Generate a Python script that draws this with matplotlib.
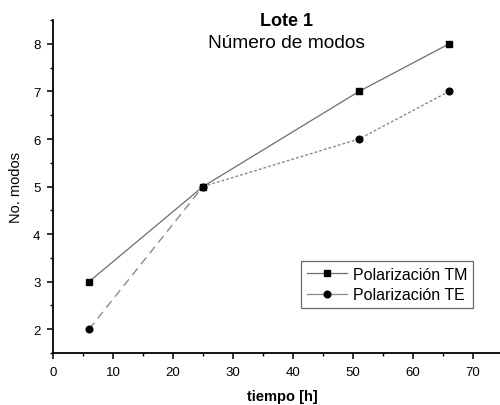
import matplotlib.pyplot as plt
from matplotlib.ticker import MultipleLocator
from matplotlib.lines import Line2D

plt.rcParams['font.family'] = ['Liberation Sans', 'DejaVu Sans']

# data
tiempo = [6, 25, 51, 66]
modos_tm = [3, 5, 7, 8]
modos_te = [2, 5, 6, 7]

fig = plt.figure(figsize=(5.0, 4.06), dpi=100)
ax = fig.add_axes([0.106, 0.128, 0.894, 0.82])

ax.plot(tiempo, modos_tm, color='#6e6e6e', lw=0.9, ls='-',
        marker='s', ms=4.5, mfc='black', mec='black')
# TE: dashed first segment, dotted afterwards
ax.plot(tiempo[:2], modos_te[:2], color='#8a8a8a', lw=1.0, ls=(0, (6, 4)))
ax.plot(tiempo[1:], modos_te[1:], color='#8a8a8a', lw=1.0, ls=(0, (2, 1.5)))
ax.plot(tiempo, modos_te, ls='none', marker='o', ms=4.8, mfc='black', mec='black')

ax.set_xlim(0, 74.5)
ax.set_ylim(1.5, 8.5)
ax.xaxis.set_major_locator(MultipleLocator(10))
ax.xaxis.set_minor_locator(MultipleLocator(5))
ax.yaxis.set_major_locator(MultipleLocator(1))
ax.yaxis.set_minor_locator(MultipleLocator(0.5))
ax.tick_params(which='major', direction='out', length=4, width=1.1, labelsize=9.5, pad=5)
ax.tick_params(which='minor', direction='out', length=2.5, width=1.0)
for s in ('top', 'right'):
    ax.spines[s].set_visible(False)
for s in ('left', 'bottom'):
    ax.spines[s].set_linewidth(1.3)

ax.set_xlabel('tiempo [h]', fontsize=10.5, fontweight='bold')
ax.xaxis.set_label_coords(0.513, -0.107)
ax.set_ylabel('No. modos', fontsize=10.5)
ax.yaxis.set_label_coords(-0.068, 0.5)

fig.text(0.574, 0.947, 'Lote 1', ha='center', va='center', fontsize=13, fontweight='bold')
fig.text(0.574, 0.893, 'Número de modos', ha='center', va='center', fontsize=13.8)

handles = [
    Line2D([], [], color='#6e6e6e', lw=0.9, marker='s', ms=4.5, mfc='black', mec='black'),
    Line2D([], [], color='#8a8a8a', lw=0.9, marker='o', ms=4.8, mfc='black', mec='black'),
]
leg = ax.legend(handles, ['Polarización TM', 'Polarización TE'],
                loc='upper left', bbox_to_anchor=(0.555, 0.276),
                fontsize=11.5, frameon=True, fancybox=False, handlelength=2.5,
                handletextpad=0.4, borderpad=0.35, labelspacing=0.35, borderaxespad=0)
leg.get_frame().set_edgecolor('#444444')
leg.get_frame().set_linewidth(0.9)

fig.savefig('out.png', dpi=100, facecolor='white')
